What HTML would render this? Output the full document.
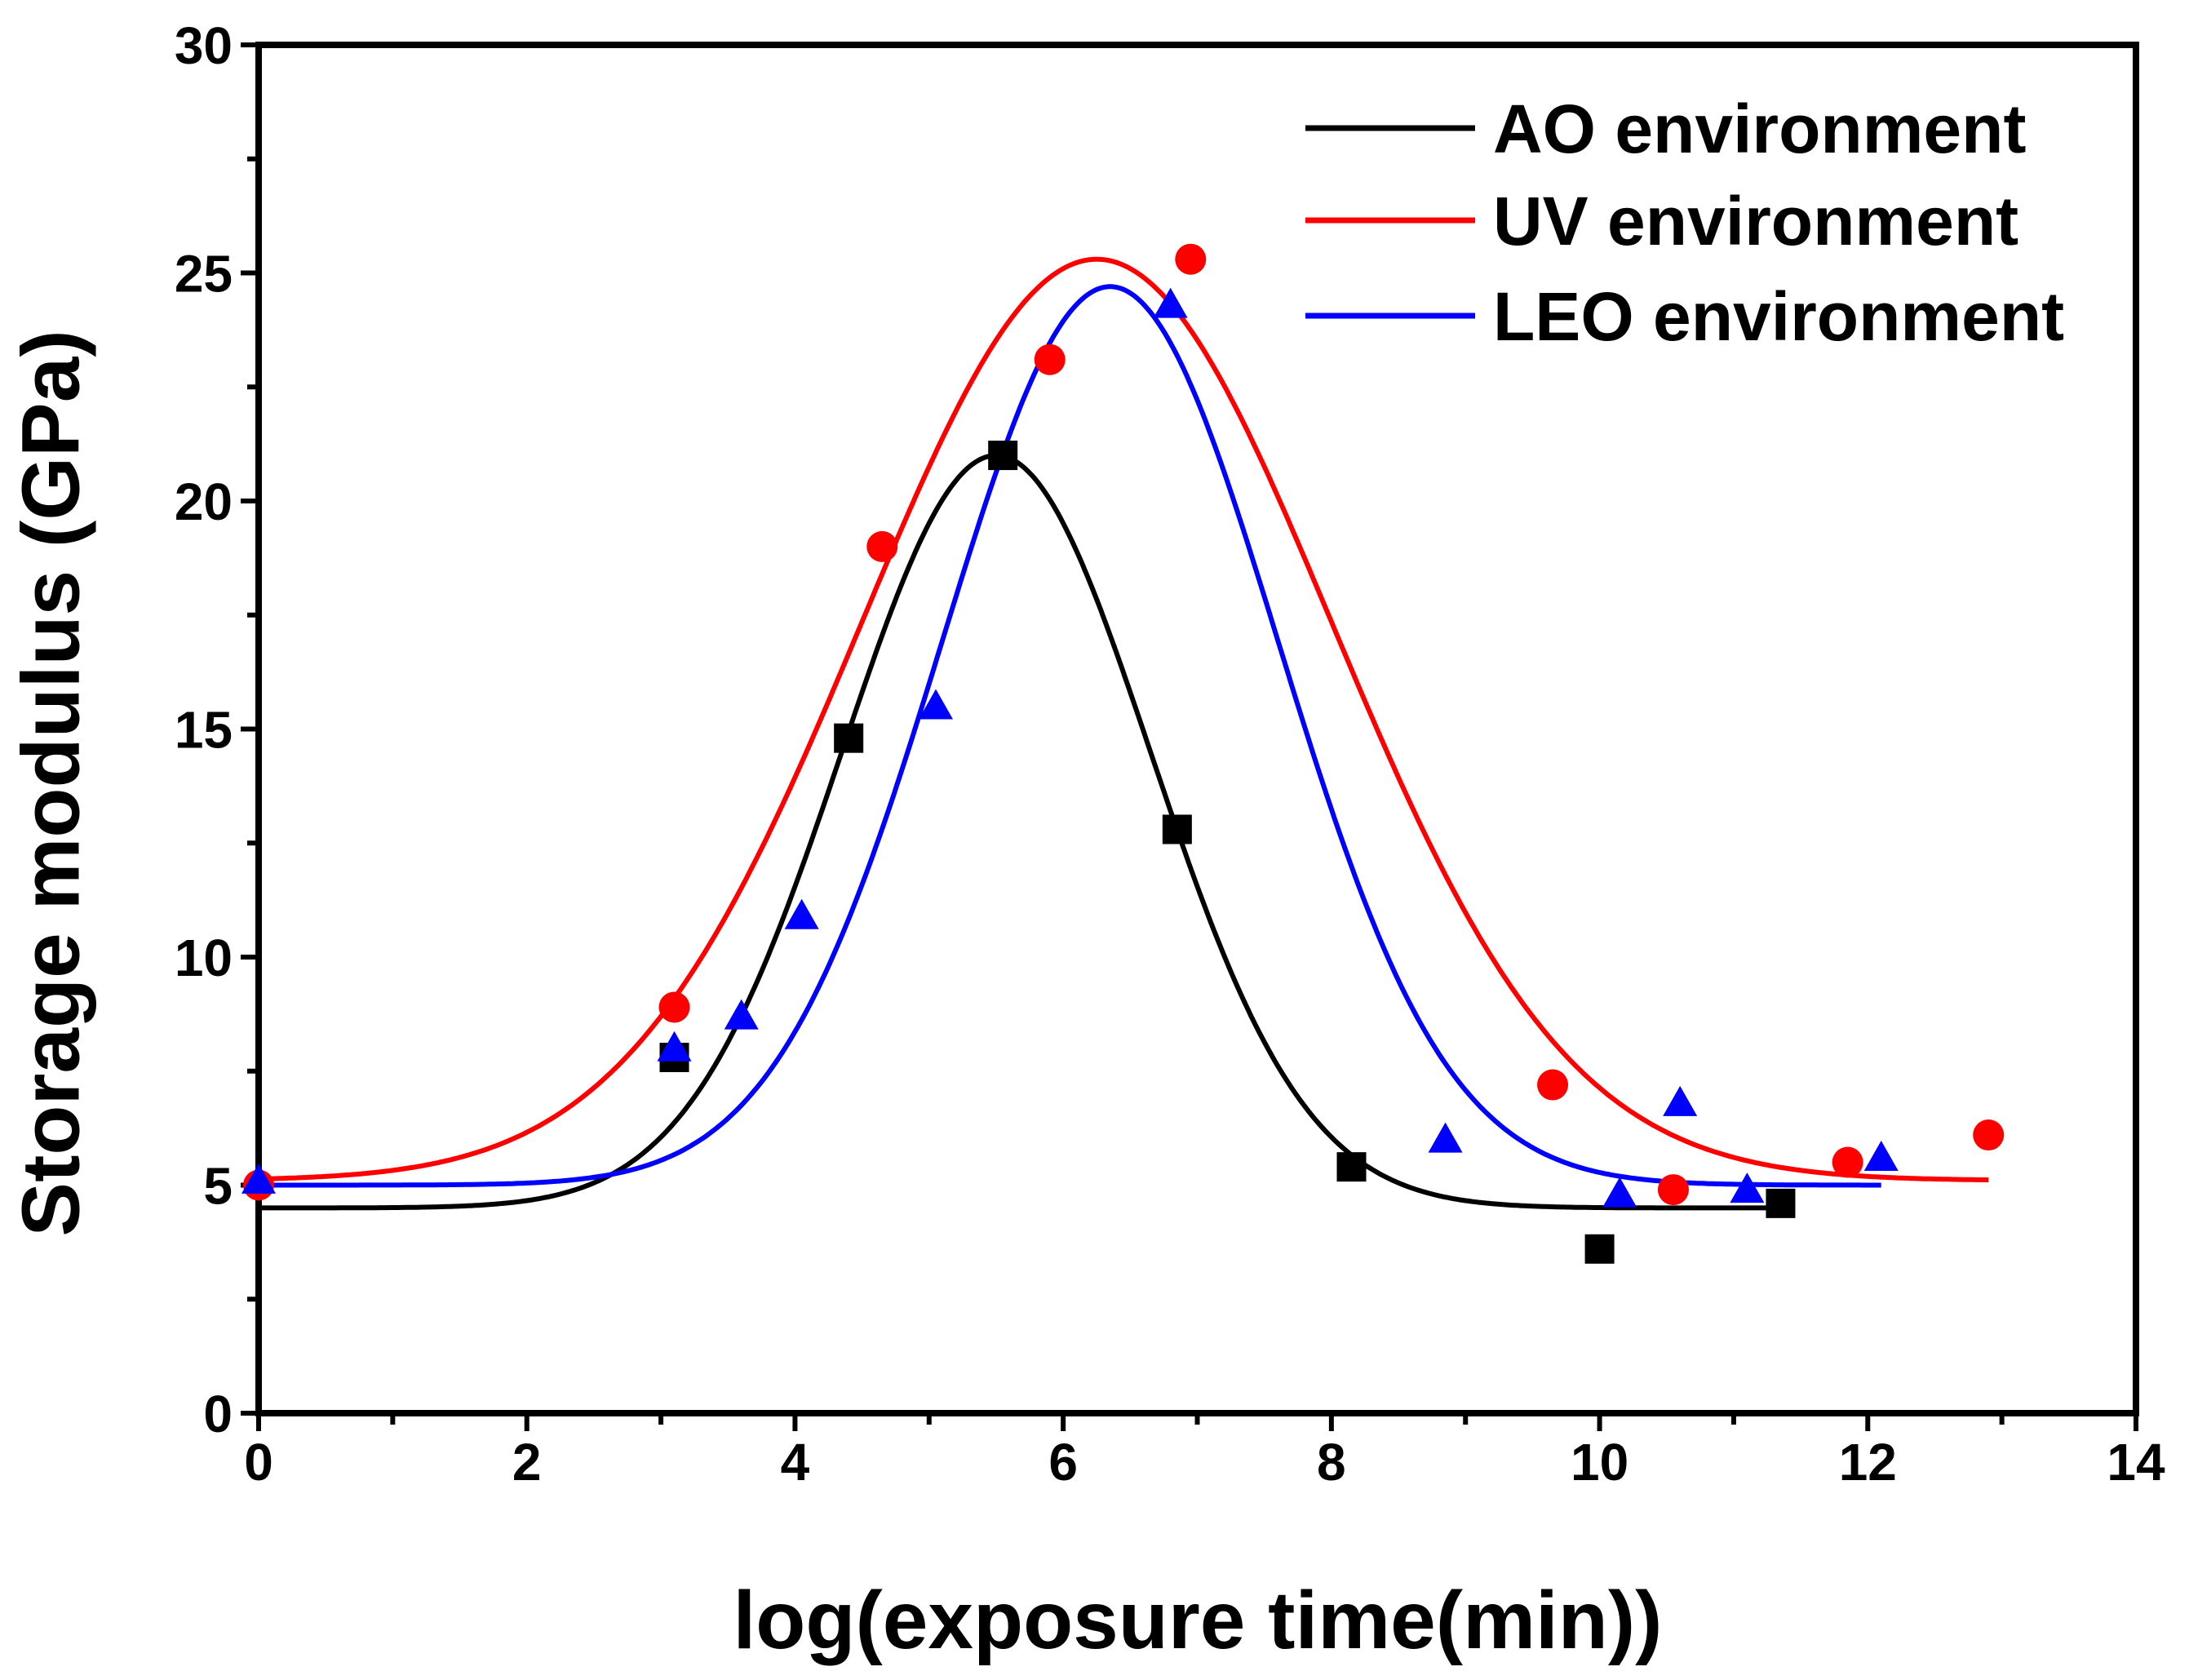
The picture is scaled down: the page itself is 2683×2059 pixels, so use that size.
<!DOCTYPE html>
<html><head><meta charset="utf-8"><style>
html,body{margin:0;padding:0;background:#fff}
svg text{font-family:"Liberation Sans",Arial,sans-serif;font-weight:bold}
</style></head><body>
<svg id="chart" width="2683" height="2054" xmlns="http://www.w3.org/2000/svg">
<g id="axes"></g>
<g id="curves"></g>
<g id="points"></g>
<g id="legend"></g>
<text x="0" y="0" font-size="100" text-anchor="middle" transform="translate(70,960) rotate(-90)" dominant-baseline="middle">Storage modulus (GPa)</text>
<text x="1468" y="2020" font-size="100" text-anchor="middle">log(exposure time(min))</text>
</svg>
<script>
const xTicks=[0,2,4,6,8,10,12,14];
const yTicks=[0,5,10,15,20,25,30];
const aoX=[3.1,4.4,5.55,6.85,8.15,10.0,11.35];
const aoY=[7.8,14.8,21.0,12.8,5.4,3.6,4.6];
const uvX=[0,3.1,4.65,5.9,6.95,9.65,10.55,11.85,12.9];
const uvY=[5.0,8.9,19.0,23.1,25.3,7.2,4.9,5.5,6.1];
const leoX=[0,3.1,3.6,4.05,5.05,6.8,8.85,10.15,10.6,11.1,12.1];
const leoY=[5.1,8.0,8.7,10.9,15.5,24.3,6.0,4.8,6.8,4.9,5.6];
// gaussian fit params: [base, amplitude, center, sigma, xmax]
const aoFit=[4.5,16.5,5.5,1.15,11.35];
const uvFit=[5.1,20.2,6.25,1.75,12.9];
const leoFit=[5.0,19.7,6.35,1.25,12.1];

const L=317,R=2618,T=55,B=1732;
const sx=v=>L+(v-0)/(14-0)*(R-L);
const sy=v=>B-(v-0)/(30-0)*(B-T);
const NS='http://www.w3.org/2000/svg';
function mk(tag,parent,attrs){const e=document.createElementNS(NS,tag);for(const k in attrs)e.setAttribute(k,attrs[k]);parent.appendChild(e);return e;}
const ax=document.getElementById('axes');
let e=mk('rect',ax,{x:L,y:T,width:R-L,height:B-T,fill:'none',stroke:'#000','stroke-width':8});


for(let v=0;v<=14;v+=1){
 const major=v%2===0;
 e=mk('line',ax,{x1:sx(v),x2:sx(v),y1:B,y2:B+(major?22:14),stroke:'#000','stroke-width':6});
 
 
}
for(let v=0;v<=30;v+=2.5){
 const major=v%5===0;
 e=mk('line',ax,{x1:L,x2:L-(major?22:14),y1:sy(v),y2:sy(v),stroke:'#000','stroke-width':6});
 
 
}
xTicks.forEach(v=>{e=mk('text',ax,{x:sx(v),y:B+82,'font-size':64,'text-anchor':'middle'});e.textContent=v;
 
 });
yTicks.forEach(v=>{e=mk('text',ax,{x:L-32,y:sy(v)+23,'font-size':64,'text-anchor':'end'});e.textContent=v;
 
 });

const cv=document.getElementById('curves');
function curve(p,color,name){let d='';for(let x=0;x<=p[4]+1e-9;x+=0.02){const y=p[0]+p[1]*Math.exp(-((x-p[2])**2)/(2*p[3]*p[3]));d+=(d?'L':'M')+sx(x).toFixed(1)+','+sy(y).toFixed(1);}
 const el=mk('path',cv,{d:d,fill:'none',stroke:color,'stroke-width':6});
 
 }
curve(aoFit,'#000','ao-fit-curve');
curve(uvFit,'#f00','uv-fit-curve');
curve(leoFit,'#00f','leo-fit-curve');

const pg=document.getElementById('points');
aoX.forEach((x,i)=>{const el=mk('rect',pg,{x:sx(x)-18,y:sy(aoY[i])-18,width:36,height:36,fill:'#000'});
 
 });
uvX.forEach((x,i)=>{const el=mk('circle',pg,{cx:sx(x),cy:sy(uvY[i]),r:19,fill:'#f00'});
 
 });
leoX.forEach((x,i)=>{const cx=sx(x),cy=sy(leoY[i]);const el=mk('polygon',pg,{points:`${cx},${cy-21} ${cx-21},${cy+16} ${cx+21},${cy+16}`,fill:'#00f'});
 
 });

const lg=document.getElementById('legend');
[['AO environment','#000',157],['UV environment','#f00',270],['LEO environment','#00f',387]].forEach(r=>{
 let l=mk('line',lg,{x1:1600,x2:1808,y1:r[2],y2:r[2],stroke:r[1],'stroke-width':7});
 
 
 let t=mk('text',lg,{x:1830,y:r[2]+30,'font-size':84});t.textContent=r[0];
 
 
});
</script>
</body></html>
